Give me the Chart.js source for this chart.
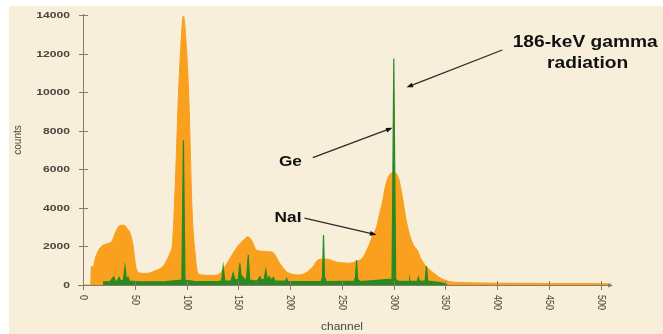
<!DOCTYPE html>
<html>
<head>
<meta charset="utf-8">
<script src="https://cdn.jsdelivr.net/npm/chart.js@4"></script>
<style>
  html, body { margin: 0; padding: 0; background: #fff; }
  canvas { display: block; }
</style>
</head>
<body>
<canvas id="spectrum" width="663" height="334"></canvas>
<script>
// NaI(Tl) scintillator spectrum
const naiChannels = [0, 7.5, 8, 9.5, 12, 15, 19.5, 24, 27.7, 32, 36, 40, 43, 45.4, 48.5, 51, 55, 60, 64, 70, 77, 81, 84,
  86.5, 88.5, 90, 92, 94.3, 97, 100, 102.3, 105, 106.5, 108, 109.5, 111, 115, 120, 125, 130, 135, 140, 145, 150,
  155, 159.5, 163, 167.7, 173, 178, 183, 190, 196.6, 202, 209, 215, 222, 227, 231, 235, 240, 244, 248, 253,
  258, 263, 270, 274, 277, 280, 283.5, 286.5, 289.6, 292, 295, 298, 302, 305, 307, 309, 312, 316, 320, 323, 326,
  331, 338, 344, 349, 356, 370, 390, 420, 460, 500, 510];
const naiCounts = [0, 0, 950, 950, 1400, 1800, 2070, 2150, 2250, 2800, 3100, 3100, 2900, 2700, 2000, 950, 620, 600, 620, 750, 950, 1300, 1650,
  2200, 4400, 6500, 9600, 12200, 13950, 12200, 9600, 4400, 2700, 1800, 1000, 600, 520, 500, 500, 520, 780, 1200, 1650, 2050,
  2330, 2500, 2300, 1810, 1750, 1730, 1700, 1130, 690, 560, 520, 620, 950, 1300, 1340, 1350, 1280, 1200, 1160, 1140,
  1130, 1200, 1400, 1800, 2150, 2600, 3000, 3700, 4400, 5100, 5600, 5800, 5800, 5500, 5000, 4400, 3400, 2500, 2000, 1800, 1400,
  1000, 650, 400, 260, 160, 120, 100, 90, 80, 70, 60];

// Ge detector spectrum
const geChannels = [19.5, 20, 26, 29.7, 31, 33, 35, 36.5, 39, 40.5, 42, 43.5, 45, 55, 80, 95.5, 97, 98.5, 110, 130, 134, 135.4, 137,
  143, 145, 147, 150, 151.5, 153, 154, 155.5, 158, 159.6, 161, 168, 171, 172.5, 175, 176.6, 178, 180, 181.5, 184, 185.5, 195.5, 196.6, 198,
  230, 231.3, 232.3, 233.3, 235, 262, 263.2, 264.2, 265.2, 268, 298.5, 300.2, 302, 304, 315, 315.5, 316, 323, 324, 325, 330.5,
  331.7, 333, 345, 350, 352];
const geCounts = [0, 170, 180, 430, 200, 220, 400, 200, 250, 950, 300, 400, 200, 160, 170, 250, 7500, 250, 170, 170, 220, 950, 220,
  200, 620, 250, 300, 1130, 350, 450, 300, 300, 1550, 250, 200, 430, 250, 300, 780, 300, 430, 250, 400, 200, 200, 340, 170,
  170, 400, 2590, 400, 180, 200, 400, 1300, 300, 180, 300, 11750, 300, 200, 170, 300, 170, 200, 400, 200, 200,
  980, 200, 120, 60, 0];

const xTicks = [0, 50, 100, 150, 200, 250, 300, 350, 400, 450, 500];
const yTicks = [0, 2000, 4000, 6000, 8000, 10000, 12000, 14000];

const toPoints = (xs, ys) => xs.map((v, i) => ({ x: v, y: ys[i] }));

// callouts, anchored in channel/counts coordinates
const callouts = [
  { lines: ['186-keV gamma', 'radiation'], text: [415, 12550], from: [405, 12185], to: [312.5, 10250] },
  { lines: ['Ge'], text: [211.5, 6380], from: [222, 6600], to: [299, 8150] },
  { lines: ['NaI'], text: [211, 3470], from: [214, 3470], to: [283.5, 2600] }
];

const INK = '#4a4640';
const AXIS = '#847c70';

function stretchedText(ctx, str, x, y, sx) {
  ctx.save();
  ctx.translate(x, y);
  ctx.scale(sx, 1);
  ctx.fillText(str, 0, 0);
  ctx.restore();
}

function arrow(ctx, x1, y1, x2, y2) {
  const a = Math.atan2(y2 - y1, x2 - x1);
  ctx.beginPath();
  ctx.moveTo(x1, y1);
  ctx.lineTo(x2 - 4 * Math.cos(a), y2 - 4 * Math.sin(a));
  ctx.stroke();
  ctx.beginPath();
  ctx.moveTo(x2, y2);
  ctx.lineTo(x2 - 7 * Math.cos(a - 0.35), y2 - 7 * Math.sin(a - 0.35));
  ctx.lineTo(x2 - 7 * Math.cos(a + 0.35), y2 - 7 * Math.sin(a + 0.35));
  ctx.closePath();
  ctx.fill();
}

const paper = {
  id: 'paper',
  beforeDraw(chart) {
    const { ctx, width, height } = chart;
    ctx.save();
    ctx.fillStyle = '#ffffff';
    ctx.fillRect(0, 0, width, height);
    ctx.fillStyle = '#f8efda';
    ctx.fillRect(9, 6, width - 9, height - 6);
    ctx.restore();
  }
};

const axesAndNotes = {
  id: 'axesAndNotes',
  afterDatasetsDraw(chart) {
    const { ctx, scales: { x, y } } = chart;
    const x0 = x.getPixelForValue(0);
    const y0 = y.getPixelForValue(0);
    const xEnd = x.getPixelForValue(x.max);
    ctx.save();

    // axis lines
    ctx.strokeStyle = AXIS;
    ctx.fillStyle = AXIS;
    ctx.lineWidth = 1;
    ctx.beginPath();
    ctx.moveTo(x0 + 0.5, y.getPixelForValue(y.max) - 1);
    ctx.lineTo(x0 + 0.5, y0);
    ctx.moveTo(x0 - 5, y0 + 0.5);
    ctx.lineTo(xEnd, y0 + 0.5);
    ctx.stroke();
    ctx.beginPath();
    ctx.moveTo(xEnd + 2, y0 + 0.5);
    ctx.lineTo(xEnd - 3, y0 - 1.5);
    ctx.lineTo(xEnd - 3, y0 + 2.5);
    ctx.closePath();
    ctx.fill();

    // y ticks and labels
    ctx.font = 'bold 9px "Liberation Sans", Arial, sans-serif';
    ctx.textAlign = 'right';
    ctx.textBaseline = 'middle';
    yTicks.forEach(v => {
      const py = Math.round(y.getPixelForValue(v)) + 0.5;
      ctx.strokeStyle = AXIS;
      ctx.beginPath();
      ctx.moveTo(x0 - 4, py);
      ctx.lineTo(x0 + 5, py);
      ctx.stroke();
      ctx.fillStyle = INK;
      stretchedText(ctx, String(v), x0 - 13, py, 1.35);
    });

    // x ticks and labels, read top to bottom
    ctx.textAlign = 'left';
    xTicks.forEach(v => {
      const px = Math.round(x.getPixelForValue(v)) + 0.5;
      ctx.strokeStyle = AXIS;
      ctx.beginPath();
      ctx.moveTo(px, y0 - 4);
      ctx.lineTo(px, y0 + 5);
      ctx.stroke();
      ctx.save();
      ctx.translate(px, y0 + 10);
      ctx.rotate(Math.PI / 2);
      ctx.fillStyle = INK;
      ctx.font = '9px "Liberation Sans", Arial, sans-serif';
      ctx.scale(1, 1.25);
      ctx.fillText(String(v), 0, 0);
      ctx.restore();
    });

    // axis titles
    ctx.fillStyle = INK;
    ctx.font = '10px "Liberation Sans", Arial, sans-serif';
    ctx.textAlign = 'center';
    ctx.textBaseline = 'middle';
    stretchedText(ctx, 'channel', (x0 + xEnd) / 2 - 5, y0 + 42, 1.2);
    ctx.save();
    ctx.translate(18, (y.top + y0) / 2 - 10);
    ctx.rotate(-Math.PI / 2);
    ctx.fillText('counts', 0, 0);
    ctx.restore();

    // callouts
    ctx.strokeStyle = '#2b2b2b';
    ctx.fillStyle = '#111111';
    ctx.lineWidth = 1.3;
    callouts.forEach(c => {
      arrow(ctx, x.getPixelForValue(c.from[0]), y.getPixelForValue(c.from[1]),
        x.getPixelForValue(c.to[0]), y.getPixelForValue(c.to[1]));
      const tx = x.getPixelForValue(c.text[0]);
      const ty = y.getPixelForValue(c.text[1]);
      if (c.lines.length > 1) {
        ctx.font = 'bold 16px "Liberation Sans", Arial, sans-serif';
        ctx.textAlign = 'left';
        stretchedText(ctx, c.lines[0], tx, ty, 1.2);
        ctx.textAlign = 'center';
        stretchedText(ctx, c.lines[1], tx + 75, ty + 21, 1.2);
      } else {
        ctx.font = 'bold 15px "Liberation Sans", Arial, sans-serif';
        ctx.textAlign = 'right';
        stretchedText(ctx, c.lines[0], tx, ty, 1.15);
      }
    });
    ctx.restore();
  }
};

new Chart(document.getElementById('spectrum'), {
  type: 'line',
  data: {
    datasets: [
      {
        label: 'Ge',
        data: toPoints(geChannels, geCounts),
        borderColor: '#2a8a22',
        backgroundColor: '#2a8a22',
        borderWidth: 1.2,
        fill: 'origin',
        pointRadius: 0,
        tension: 0,
        order: 1
      },
      {
        label: 'NaI',
        data: toPoints(naiChannels, naiCounts),
        borderColor: '#f9a01e',
        backgroundColor: '#f9a01e',
        borderWidth: 1,
        fill: 'origin',
        pointRadius: 0,
        cubicInterpolationMode: 'monotone',
        order: 2
      }
    ]
  },
  options: {
    responsive: false,
    animation: false,
    devicePixelRatio: 1,
    layout: { padding: { left: 83, right: 52, top: 15, bottom: 49 } },
    plugins: { legend: { display: false }, tooltip: { enabled: false } },
    scales: {
      x: { type: 'linear', min: 0, max: 510, display: false },
      y: { min: 0, max: 14000, display: false }
    }
  },
  plugins: [paper, axesAndNotes]
});
</script>
</body>
</html>
